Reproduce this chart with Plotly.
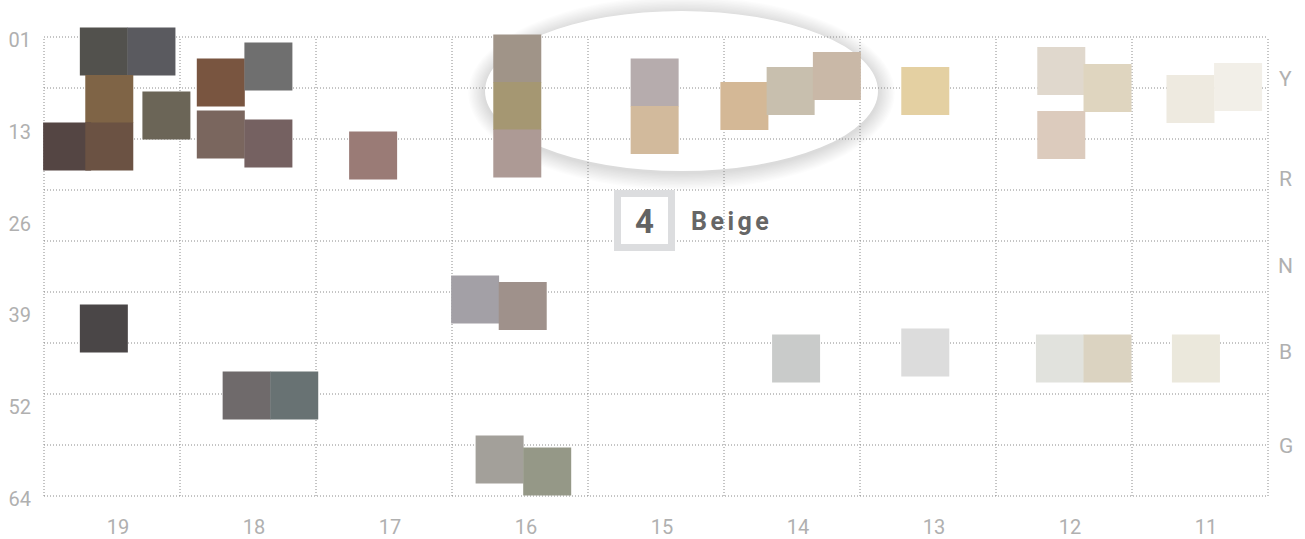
import numpy as np
import plotly.graph_objects as go

# ---------------- data ----------------
hue_values = [19, 18, 17, 16, 15, 14, 13, 12, 11]
hue_labels = ["19", "18", "17", "16", "15", "14", "13", "12", "11"]
value_labels = ["01", "13", "26", "39", "52", "64"]
tone_labels = ["Y", "R", "N", "B", "G"]

swatch_hue = [19.06, 18.71, 19.02, 19.33, 19.02, 18.60, 19.06,
              18.20, 17.85, 18.20, 17.85, 18.01, 17.66,
              17.08,
              16.02, 16.02, 16.02, 16.33, 15.98, 16.15, 15.80,
              15.01, 15.01,
              14.35, 14.01, 13.67, 13.97,
              13.02, 13.02,
              12.02, 11.68, 12.02, 12.03, 11.68,
              11.07, 10.72, 11.03]
swatch_value = [2.99, 2.99, 9.51, 16.03, 16.03, 11.77, 41.01,
                7.25, 5.05, 14.38, 15.62, 50.21, 50.21,
                17.26,
                3.95, 10.47, 16.99, 37.03, 37.92, 58.99, 60.64,
                7.25, 13.76,
                10.47, 8.41, 6.35, 45.13,
                8.41, 44.30,
                5.67, 8.00, 14.45, 45.13, 45.13,
                9.51, 7.86, 45.13]
swatch_color = ["#52514d", "#5a5a5f", "#7f6446", "#544543", "#6b5243", "#6b6557", "#4a4647",
                "#795540", "#6f6f6f", "#7a665e", "#756161", "#6f6a6b", "#687273",
                "#9a7b76",
                "#a09488", "#a59772", "#ad9a95", "#a3a0a6", "#9f918b", "#a3a09a", "#959887",
                "#b6acad", "#d2ba9c",
                "#d4b896", "#c8bfae", "#c9b8a7", "#c9cbca",
                "#e4d0a2", "#dcdcdc",
                "#e0d8cd", "#dfd5bf", "#dccbbd", "#e1e2dd", "#dbd3c1",
                "#eeeae0", "#f2efe8", "#ebe8dc"]

group_number = "4"
group_name = "Beige"

# ---------------- figure ----------------
W, H = 1305, 539
ML, MR, MT, MB = 44, 37, 37, 43
PW, PH = W - ML - MR, H - MT - MB

FONT = "Roboto, 'Open Sans', sans-serif"
TICK_COLOR = "#b0b0b0"
GRID_COLOR = "#8a8a8a"


def px_x(p):
    return (p - ML) / PW


def px_y(p):
    return 1 - (p - MT) / PH


fig = go.Figure()
fig.add_trace(go.Scatter(
    x=swatch_hue, y=swatch_value, mode="markers", cliponaxis=False,
    marker=dict(symbol="square", size=48, color=swatch_color,
                line=dict(width=0), opacity=1),
    hoverinfo="skip", showlegend=False,
))

shapes = []
# ellipse highlight with soft shadow
ex0, ex1, ey0, ey1 = 485, 878, 11, 171
n_rings = 12
for k in range(n_rings, 0, -1):
    d = 1.4 * k
    shapes.append(dict(type="circle", xref="paper", yref="paper", layer="below",
                       x0=px_x(ex0 - d), x1=px_x(ex1 + d),
                       y0=px_y(ey1 + d + 2), y1=px_y(ey0 - d + 2),
                       fillcolor="rgba(0,0,0,0.012)", line=dict(width=0)))
shapes.append(dict(type="circle", xref="paper", yref="paper", layer="below",
                   x0=px_x(ex0), x1=px_x(ex1), y0=px_y(ey1), y1=px_y(ey0),
                   fillcolor="white", line=dict(width=0)))

# dotted grid
for i in range(10):
    shapes.append(dict(type="line", xref="paper", yref="paper", layer="below",
                       x0=i / 9, x1=i / 9, y0=0, y1=1,
                       line=dict(color=GRID_COLOR, width=1, dash="1px,2px")))
    shapes.append(dict(type="line", xref="paper", yref="paper", layer="below",
                       x0=0, x1=1, y0=i / 9, y1=i / 9,
                       line=dict(color=GRID_COLOR, width=1, dash="1px,2px")))

# group label box
shapes.append(dict(type="rect", xref="paper", yref="paper", layer="above",
                   x0=px_x(617.5), x1=px_x(671.5), y0=px_y(247.5), y1=px_y(193.5),
                   fillcolor="white", line=dict(color="#dcdddf", width=7)))

annotations = [
    dict(xref="paper", yref="paper", x=px_x(644.5), y=px_y(221), text=group_number,
         showarrow=False, xanchor="center", yanchor="middle",
         font=dict(family=FONT, size=33, color="#636363", weight="bold")),
    dict(xref="paper", yref="paper", x=px_x(689), y=px_y(221),
         text='<span style="letter-spacing:3.5px">' + group_name + '</span>',
         showarrow=False, xanchor="left", yanchor="middle",
         font=dict(family=FONT, size=25, color="#666666", weight="bold")),
]
tone_y = [79, 179, 266, 352, 446]
for lab, py in zip(tone_labels, tone_y):
    annotations.append(dict(xref="paper", yref="paper", x=px_x(1285.5), y=px_y(py),
                            text=lab, showarrow=False, xanchor="center", yanchor="middle",
                            font=dict(family=FONT, size=21, color=TICK_COLOR)))

fig.update_layout(
    width=W, height=H,
    margin=dict(l=ML, r=MR, t=MT, b=MB, pad=0, autoexpand=False),
    paper_bgcolor="white", plot_bgcolor="white",
    showlegend=False,
    shapes=shapes, annotations=annotations,
    xaxis=dict(range=[19.5, 10.5], tickvals=hue_values, ticktext=hue_labels,
               showgrid=False, zeroline=False, showline=False, ticks="",
               automargin=False,
               ticklabelstandoff=17, ticklabelshift=-6,
               tickfont=dict(family=FONT, size=20, color=TICK_COLOR)),
    yaxis=dict(range=[64, 1], tickvals=list(np.linspace(1, 64, 6)), ticktext=value_labels,
               showgrid=False, zeroline=False, showline=False, ticks="",
               automargin=False,
               ticklabelstandoff=12, ticklabelshift=-3,
               tickfont=dict(family=FONT, size=20, color=TICK_COLOR)),
)

fig.write_html("out.html", config={"displayModeBar": False},
               post_script="document.body.style.margin='0px';document.body.style.overflow='hidden';")
